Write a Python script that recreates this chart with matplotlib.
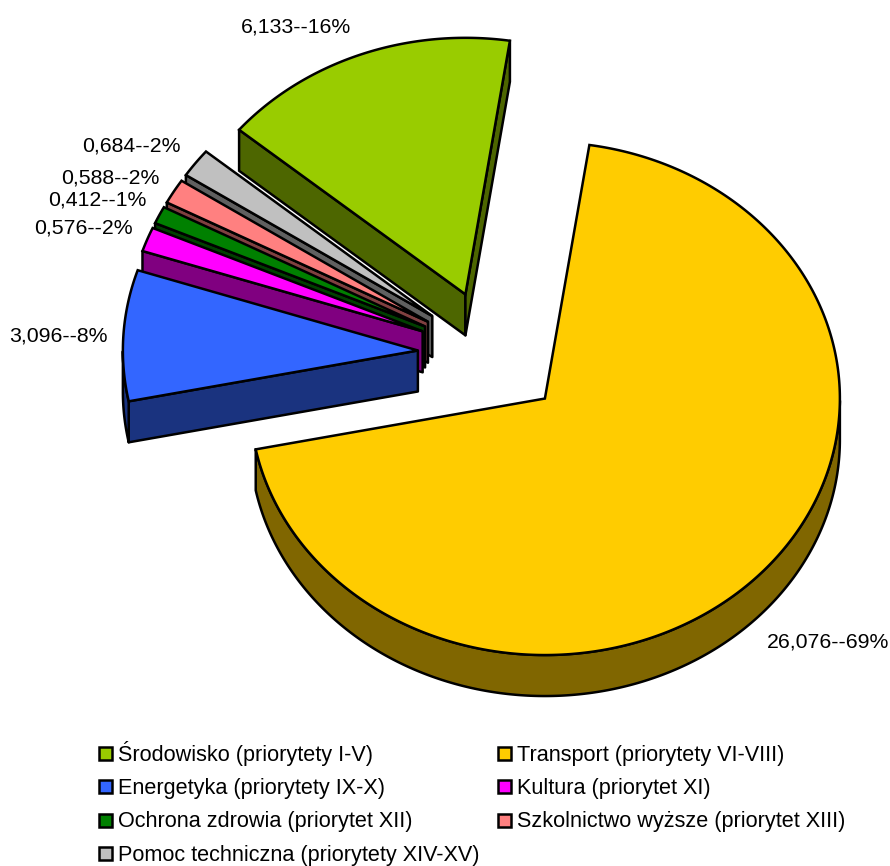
import numpy as np
import matplotlib
matplotlib.use("Agg")
import matplotlib.pyplot as plt
from matplotlib.patches import Polygon, Rectangle

categories = ["Środowisko (priorytety I-V)", "Transport (priorytety VI-VIII)",
              "Energetyka (priorytety IX-X)", "Kultura (priorytet XI)",
              "Ochrona zdrowia (priorytet XII)", "Szkolnictwo wyższe (priorytet XIII)",
              "Pomoc techniczna (priorytety XIV-XV)"]
values = [6.133, 26.076, 3.096, 0.576, 0.412, 0.588, 0.684]
top_colors = ["#99CC00", "#FFCC00", "#3366FF", "#FF00FF", "#008000", "#FF8080", "#C0C0C0"]
side_colors = ["#4D6600", "#806600", "#1A337F", "#800080", "#004000", "#804040", "#606060"]
label_pos = [(296, 27), (828, 642), (58, 336), (83, 228), (97, 200), (110, 178), (131, 146)]

plt.rcParams["font.family"] = ["Liberation Sans", "DejaVu Sans"]
FS = 15.3
LEG_FS = 15.6
fig = plt.figure(figsize=(8.9, 8.66), dpi=100)
ax = fig.add_axes([0, 0, 1, 1])
ax.set_xlim(0, 890)
ax.set_ylim(866, 0)
ax.axis("off")

CX, CY, RX, RY, DEPTH, EXPL = 491.5, 354.3, 295, 256.5, 41, 0.25
START = -50.1
LW = 1.8
total = sum(values)
sweeps = [v / total * 360 for v in values]
starts = START + np.concatenate(([0], np.cumsum(sweeps)[:-1]))


def pt(a, r=1.0):
    a = np.radians(a)
    return np.array([RX * r * np.sin(a), -RY * r * np.cos(a)]).T


def draw_slice(i):
    s, w = starts[i], sweeps[i]
    e = s + w
    mid = s + w / 2
    apex = np.array([CX, CY]) + pt(mid, EXPL)
    ang = np.linspace(s, e, max(int(w * 2), 8))
    arc = apex + pt(ang)
    d = np.array([0, DEPTH])
    kw = dict(edgecolor="black", linewidth=LW, joinstyle="round", facecolor=side_colors[i])
    # radial walls, only those that face the viewer
    if np.sin(np.radians(s)) < 0:
        p = arc[0]
        ax.add_patch(Polygon([apex, p, p + d, apex + d], closed=True, **kw))
    if np.sin(np.radians(e)) > 0:
        p = arc[-1]
        ax.add_patch(Polygon([apex, p, p + d, apex + d], closed=True, **kw))
    # outer wall: the part of the rim that faces the viewer
    a_mod = np.mod(ang, 360)
    vis = arc[(a_mod >= 90) & (a_mod <= 270)]
    if len(vis) > 1:
        ax.add_patch(Polygon(np.vstack([vis, (vis + d)[::-1]]), closed=True, **kw))
    # top
    ax.add_patch(Polygon(np.vstack([apex, arc]), closed=True, edgecolor="black",
                         linewidth=LW, joinstyle="miter", facecolor=top_colors[i]))


for i in [6, 5, 4, 3, 2, 0, 1]:
    draw_slice(i)

for v, (x, y) in zip(values, label_pos):
    txt = f"{v:.3f}".replace(".", ",") + f"--{round(v / total * 100)}%"
    ax.text(x, y, txt, ha="center", va="center", fontsize=FS, color="black")

# legend, filled row by row in two columns
rows_y = [753, 786.5, 820, 853.5]
cols_x = [98, 497]
for i, (name, c) in enumerate(zip(categories, top_colors)):
    x = cols_x[i % 2]
    y = rows_y[i // 2]
    ax.add_patch(Rectangle((x + 1, y - 6.5), 13, 13, facecolor=c, edgecolor="black", linewidth=LW))
    ax.text(x + 20, y + 7.5, name, ha="left", va="baseline", fontsize=LEG_FS, color="black")

fig.savefig("out.png", dpi=100, facecolor="white")
